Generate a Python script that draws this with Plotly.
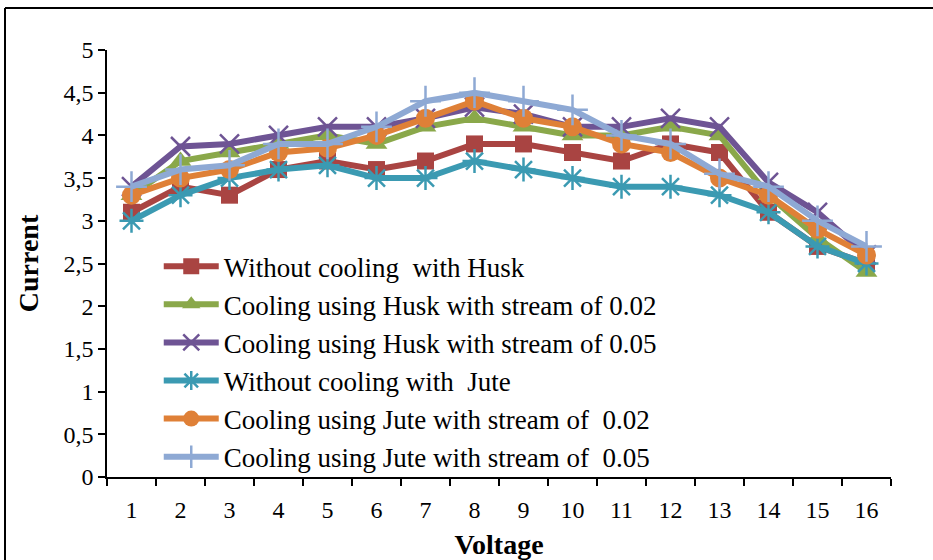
import plotly.graph_objects as go

# Voltage steps (category axis)
voltage = [str(v) for v in range(1, 17)]

# Measured current for each configuration
without_cooling_husk = [3.1, 3.4, 3.3, 3.6, 3.7, 3.6, 3.7, 3.9, 3.9, 3.8, 3.7, 3.9, 3.8, 3.1, 2.7, 2.5]
husk_stream_002 = [3.3, 3.7, 3.8, 3.9, 4.0, 3.9, 4.1, 4.2, 4.1, 4.0, 4.0, 4.1, 4.0, 3.3, 2.8, 2.4]
husk_stream_005 = [3.4, 3.87, 3.9, 4.0, 4.1, 4.1, 4.2, 4.33, 4.25, 4.1, 4.1, 4.2, 4.1, 3.45, 3.1, 2.6]
without_cooling_jute = [3.0, 3.3, 3.5, 3.6, 3.65, 3.5, 3.5, 3.7, 3.6, 3.5, 3.4, 3.4, 3.3, 3.1, 2.7, 2.5]
jute_stream_002 = [3.3, 3.5, 3.6, 3.8, 3.85, 4.0, 4.2, 4.4, 4.2, 4.1, 3.9, 3.8, 3.5, 3.3, 2.9, 2.6]
jute_stream_005 = [3.4, 3.6, 3.65, 3.9, 3.9, 4.1, 4.4, 4.5, 4.4, 4.3, 4.0, 3.9, 3.55, 3.4, 3.0, 2.7]

y_tickvals = [0, 0.5, 1, 1.5, 2, 2.5, 3, 3.5, 4, 4.5, 5]
y_ticktext = ["0", "0,5", "1", "1,5", "2", "2,5", "3", "3,5", "4", "4,5", "5"]

NB = "\u00a0"
series = [
    ("Without cooling" + NB + " with Husk", without_cooling_husk, "#A94442",
     dict(symbol="square", size=17)),
    ("Cooling using Husk with stream of 0.02", husk_stream_002, "#8AA84A",
     dict(symbol="triangle-up", size=19)),
    ("Cooling using Husk with stream of 0.05", husk_stream_005, "#6E5494",
     dict(symbol="x-thin-open", size=19, line=dict(width=2.5, color="#6E5494"))),
    ("Without cooling with" + NB + " Jute", without_cooling_jute, "#3B9AB2",
     dict(symbol="asterisk-open", size=20, line=dict(width=2.5, color="#3B9AB2"))),
    ("Cooling using Jute with stream of" + NB + " 0.02", jute_stream_002, "#DF8037",
     dict(symbol="circle", size=19)),
    ("Cooling using Jute with stream of" + NB + " 0.05", jute_stream_005, "#8EA9D4",
     dict(symbol="cross-thin-open", size=22, line=dict(width=2.5, color="#8EA9D4"))),
]

fig = go.Figure()
for i, (name, vals, color, marker) in enumerate(series):
    fig.add_trace(go.Scatter(
        x=voltage, y=vals, name=name, mode="lines+markers",
        line=dict(color=color, width=6),
        marker=dict(color=color, **marker),
        legendgroup=f"g{i}",
    ))

FONT = "Liberation Serif"
L, R, T, B = 107, 42, 50, 83
W, H = 933, 560
pw, ph = W - L - R, H - T - B

# Frame: only the top and left edges fall inside the page
fx0 = (5 - L) / pw
fy1 = (H - B - 8) / ph
fx1 = (W - L) / pw
frame = [
    dict(type="line", xref="paper", yref="paper", x0=fx0, x1=fx1, y0=fy1, y1=fy1,
         line=dict(color="black", width=2), layer="below"),
    dict(type="line", xref="paper", yref="paper", x0=fx0, x1=fx0, y0=-0.5, y1=fy1,
         line=dict(color="black", width=2), layer="below"),
]

fig.update_layout(
    width=W, height=H,
    margin=dict(l=L, r=R, t=T, b=B),
    paper_bgcolor="white", plot_bgcolor="white",
    font=dict(family=FONT, color="black", size=24),
    showlegend=True,
    legend=dict(
        x=0.066, y=0.55, xanchor="left", yanchor="top",
        bgcolor="rgba(0,0,0,0)", font=dict(family=FONT, size=27, color="black"),
        tracegroupgap=0, itemwidth=55,
    ),
    xaxis=dict(
        type="category", tickson="boundaries", range=[-0.5, 15.5], automargin=False,
        showline=True, linecolor="black", linewidth=1.5,
        ticks="outside", ticklen=7, tickcolor="black", tickwidth=1.5,
        showgrid=False, zeroline=False,
        tickfont=dict(family=FONT, size=24),
        ticklabelstandoff=10,
        title=dict(text="<b>Voltage</b>", font=dict(family=FONT, size=28), standoff=13),
    ),
    yaxis=dict(
        range=[0, 5], tickvals=y_tickvals, ticktext=y_ticktext, automargin=False,
        showline=True, linecolor="black", linewidth=1.5,
        ticks="outside", ticklen=7, tickcolor="black", tickwidth=1.5,
        showgrid=False, zeroline=False,
        tickfont=dict(family=FONT, size=24),
        title=dict(text="<b>Current</b>", font=dict(family=FONT, size=28), standoff=17),
    ),
    shapes=frame,
)

fig.write_html(
    "out.html",
    post_script="document.documentElement.style.overflow='hidden';"
                "document.body.style.margin='0';document.body.style.overflow='hidden';",
)
